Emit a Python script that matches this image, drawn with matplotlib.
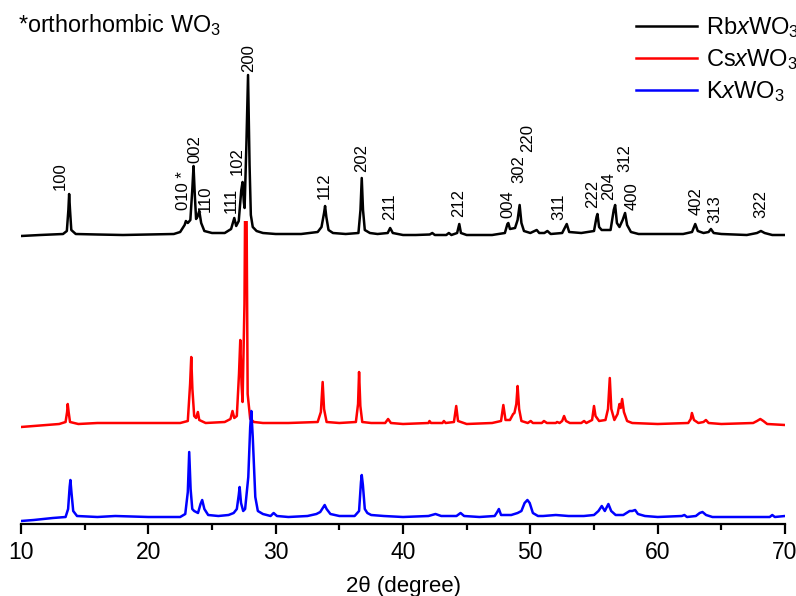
# XRD patterns of RbxWO3, CsxWO3 and KxWO3 (stacked, offset)
import numpy as np
import matplotlib.pyplot as plt
from matplotlib.ticker import MultipleLocator
from matplotlib.patches import Rectangle

plt.rcParams['font.family'] = ['Liberation Sans', 'DejaVu Sans']
plt.rcParams['mathtext.fontset'] = 'custom'
plt.rcParams['mathtext.rm'] = 'Liberation Sans'
plt.rcParams['mathtext.it'] = 'Liberation Sans:italic'

# traces: (2theta, intensity above own baseline, a.u.)
rb_pts = [(10.0, -1), (11.5, 0), (13.3, 1), (13.6, 4), (13.72, 25), (13.78, 41), (13.85, 25),
          (13.95, 5), (14.3, 1), (16, 0.5), (18, 0), (20, 0.5), (22.0, 1), (22.5, 3), (22.85, 10),
          (22.95, 14), (23.1, 12), (23.3, 15), (23.45, 45), (23.55, 69), (23.65, 40), (23.75, 16),
          (23.85, 18), (24.0, 24), (24.15, 12), (24.4, 4), (25, 2), (26.0, 2), (26.5, 6),
          (26.75, 17), (26.9, 9), (27.1, 14), (27.3, 45), (27.4, 53), (27.5, 33), (27.56, 27),
          (27.7, 90), (27.83, 160), (27.95, 70), (28.05, 20), (28.2, 8), (28.5, 4), (29, 2),
          (30, 1), (32, 1), (33.3, 3), (33.6, 8), (33.8, 22), (33.88, 29), (33.98, 18),
          (34.15, 5), (34.5, 2), (35.5, 1), (36.5, 2), (36.66, 25), (36.76, 57), (36.86, 25),
          (37.0, 5), (37.4, 2), (38.0, 1), (38.8, 2), (38.99, 7), (39.2, 2), (40, 0), (41, 0),
          (42.1, 0.5), (42.3, 2), (42.5, 0), (43.4, 0), (43.6, 2), (43.8, 0), (44.25, 2),
          (44.42, 11), (44.55, 2), (45, 0), (47, 0), (48.0, 2), (48.2, 11), (48.27, 12),
          (48.4, 6), (48.8, 7), (49.0, 15), (49.16, 30), (49.3, 12), (49.5, 4), (50.0, 2),
          (50.5, 5), (50.7, 2), (51.1, 2), (51.34, 4), (51.6, 1), (52.5, 2), (52.86, 11),
          (53.05, 3), (54, 2), (55.0, 4), (55.2, 18), (55.27, 21), (55.4, 8), (55.6, 5),
          (56.3, 5), (56.55, 25), (56.66, 30), (56.8, 12), (57.0, 8), (57.25, 15), (57.44, 22),
          (57.6, 10), (57.9, 3), (58.5, 1), (60, 1), (62, 1), (62.7, 3), (62.95, 11), (63.15, 4),
          (63.6, 2), (64.0, 3), (64.18, 6), (64.4, 2), (65, 1), (67, 0), (67.8, 2), (68.11, 4),
          (68.4, 2), (69, 0), (70, 0)]

cs_pts = [(10.0, -3), (11, -2), (13.0, 0), (13.5, 2), (13.62, 12), (13.67, 20), (13.74, 12),
          (13.85, 2), (14.5, 0), (16, 1), (20, 1), (22.5, 1), (23.1, 3), (23.28, 40), (23.37, 67),
          (23.46, 35), (23.6, 8), (23.75, 6), (23.89, 12), (24.0, 4), (24.5, 1), (26.0, 2),
          (26.45, 5), (26.61, 13), (26.75, 6), (26.95, 8), (27.12, 50), (27.22, 84), (27.32, 40),
          (27.4, 22), (27.55, 120), (27.66, 330), (27.8, 30), (28.0, 5), (28.3, 2), (29, 1),
          (31, 1), (33.3, 2), (33.55, 12), (33.69, 42), (33.8, 15), (34.0, 2), (35, 1),
          (36.3, 2), (36.47, 20), (36.55, 52), (36.65, 18), (36.8, 2), (37.5, 1), (38.6, 1),
          (38.83, 5), (39.05, 1), (40, 0), (42.0, 1), (42.08, 3), (42.2, 1), (43.1, 1),
          (43.21, 3), (43.35, 1), (44.0, 2), (44.18, 18), (44.32, 3), (45, 0), (47.0, 1),
          (47.7, 3), (47.88, 19), (48.05, 4), (48.4, 4), (48.65, 10), (48.75, 11), (48.9, 20),
          (49.0, 38), (49.12, 15), (49.3, 3), (49.8, 1), (50.03, 3), (50.2, 1), (50.9, 1),
          (51.07, 3), (51.3, 1), (52.0, 1), (52.1, 2), (52.3, 1), (52.5, 3), (52.65, 8),
          (52.8, 3), (53.1, 1), (54.0, 1), (54.22, 3), (54.4, 1), (54.85, 4), (55.0, 18),
          (55.12, 8), (55.4, 3), (55.9, 4), (56.1, 15), (56.24, 46), (56.36, 15), (56.6, 4),
          (56.85, 10), (57.0, 20), (57.1, 16), (57.21, 25), (57.35, 12), (57.6, 3), (58.0, 1),
          (60, 0), (62.4, 1), (62.6, 5), (62.69, 11), (62.85, 4), (63.2, 1), (63.6, 2),
          (63.79, 4), (64.0, 1), (65, 0), (67.5, 1), (67.8, 3), (68.06, 5), (68.3, 3),
          (68.6, 0), (70, -1)]

k_pts = [(10.0, -4), (11, -3), (12.5, -1), (13.5, 0), (13.7, 8), (13.82, 30), (13.88, 37),
         (13.96, 25), (14.1, 6), (14.4, 1), (16, 0), (17.4, 1), (20, 0), (22.5, 0), (22.9, 3),
         (23.1, 25), (23.21, 65), (23.32, 28), (23.45, 8), (23.6, 6), (23.9, 4), (24.1, 13),
         (24.23, 17), (24.4, 8), (24.7, 2), (25.5, 1), (26.3, 2), (26.7, 4), (26.95, 8),
         (27.1, 22), (27.17, 30), (27.28, 14), (27.45, 6), (27.6, 8), (27.85, 40), (28.0, 90),
         (28.09, 106), (28.2, 80), (28.4, 20), (28.6, 6), (29.0, 3), (29.6, 1), (29.84, 4),
         (30.1, 1), (31, 0), (32.5, 1), (33.2, 3), (33.5, 5), (33.75, 10), (33.85, 12),
         (34.0, 8), (34.3, 3), (35, 1), (36.2, 1), (36.55, 6), (36.7, 35), (36.76, 42),
         (36.85, 32), (37.0, 8), (37.2, 4), (37.5, 2), (38.5, 1), (40, 0), (42.0, 1),
         (42.55, 3), (43.0, 1), (44.2, 1), (44.52, 4), (44.8, 1), (46, 0), (47.2, 1),
         (47.4, 5), (47.53, 8), (47.7, 2), (48.5, 2), (49.0, 4), (49.3, 6), (49.55, 14),
         (49.77, 17), (49.95, 14), (50.2, 4), (50.6, 1), (51, 1), (52.0, 2), (53, 1),
         (54.2, 1), (55.0, 2), (55.35, 6), (55.61, 11), (55.85, 6), (56.13, 13), (56.35, 6),
         (56.7, 2), (57.3, 2), (57.8, 6), (58.0, 6), (58.23, 7), (58.45, 3), (59, 1), (60, 0),
         (61.9, 1), (62.1, 2), (62.3, 0), (63.0, 1), (63.3, 4), (63.52, 5), (63.8, 2),
         (64.3, 0), (66, 0), (68.8, 0), (69.0, 2), (69.2, 0), (70, 1)]

offsets = {'Rb': 289, 'Cs': 100, 'K': 7}
cs_layer_top = 303  # Cs panel is cut off here, like the stacked layers of the original

# (hkl label, 2theta, y of label bottom)
peak_labels = [('100', 13.12, 334), ('010 *', 22.76, 314), ('002', 23.63, 361),
               ('110', 24.47, 312), ('111', 26.51, 311), ('102', 26.96, 349),
               ('200', 27.87, 452), ('112', 33.85, 325), ('202', 36.74, 352),
               ('211', 38.96, 304), ('212', 44.34, 307), ('004', 48.24, 306),
               ('302', 49.13, 341), ('220', 49.77, 372), ('311', 52.25, 304),
               ('222', 54.87, 316), ('204', 56.18, 324), ('312', 57.42, 352),
               ('400', 58.02, 314), ('402', 63.0, 309), ('313', 64.49, 301),
               ('322', 68.11, 306)]

fig = plt.figure(figsize=(7.96, 5.96), dpi=100)
ax = fig.add_axes([21 / 796, 72 / 596, 764 / 796, 524 / 596])

series = [('Rb', rb_pts, 'black', r'Rb$\mathit{x}$WO$_3$', 3),
          ('Cs', cs_pts, 'red', r'Cs$\mathit{x}$WO$_3$', 1),
          ('K', k_pts, 'blue', r'K$\mathit{x}$WO$_3$', 2)]
for key, pts, col, lab, z in series:
    arr = np.array(pts)
    ln, = ax.plot(arr[:, 0], arr[:, 1] + offsets[key], color=col, lw=1.8, label=lab, zorder=z)
    if key == 'Cs':
        ln.set_clip_path(Rectangle((10, -10), 60, cs_layer_top + 10, transform=ax.transData))

for txt, x, y in peak_labels:
    ax.text(x, y, txt, rotation=90, ha='center', va='bottom', fontsize=12)

ax.set_xlim(10, 70)
ax.set_ylim(0, 524)
for s in ['left', 'right', 'top']:
    ax.spines[s].set_visible(False)
ax.spines['bottom'].set_linewidth(1.6)
ax.set_yticks([])
ax.xaxis.set_major_locator(MultipleLocator(10))
ax.xaxis.set_minor_locator(MultipleLocator(5))
ax.tick_params(axis='x', which='major', direction='out', length=7, width=1.6, labelsize=16.5, pad=5)
ax.tick_params(axis='x', which='minor', direction='out', length=4, width=1.6)
ax.set_xlabel('2\u03b8 (degree)', fontsize=16, labelpad=9)

fig.text(18 / 796, 1 - 32 / 596, r'*orthorhombic WO$_3$', fontsize=16.8, va='baseline', ha='left')

ax.legend(loc='upper left', bbox_to_anchor=(636 / 796, 1 - 15 / 596), bbox_transform=fig.transFigure,
          frameon=False, fontsize=17, handlelength=2.6, handletextpad=0.35, labelspacing=0.3,
          borderpad=0, borderaxespad=0)

fig.savefig('out.png', dpi=100)
